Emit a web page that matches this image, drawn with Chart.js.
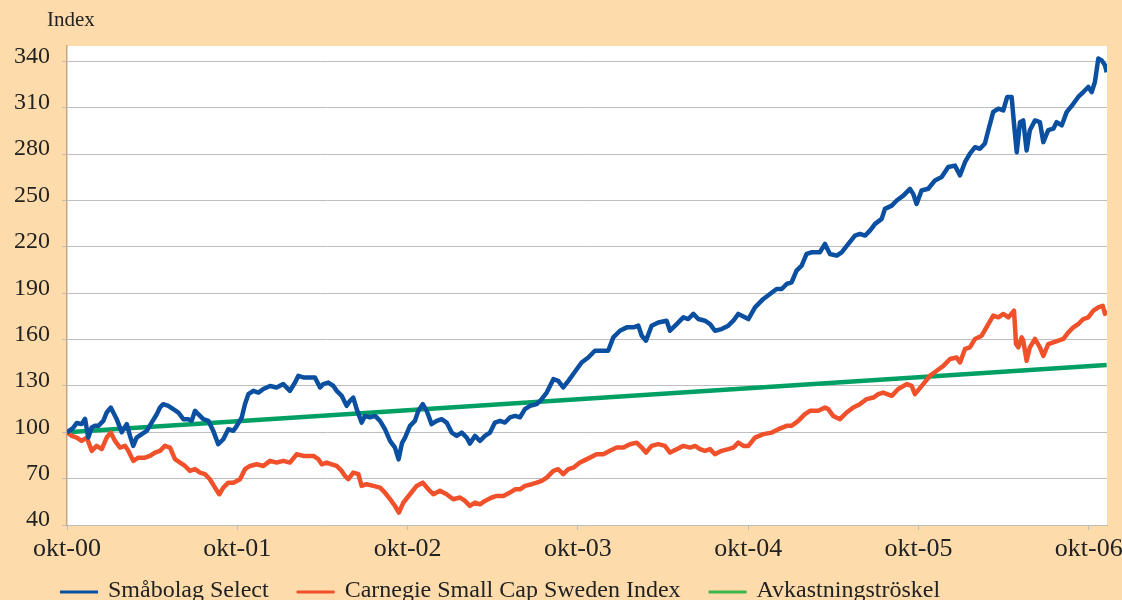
<!DOCTYPE html>
<html>
<head>
<meta charset="utf-8">
<script src="https://cdn.jsdelivr.net/npm/chart.js@4"></script>
<style>
  html, body { margin: 0; padding: 0; background: #FDDBAB; }
  #wrap { width: 1122px; height: 600px; }
</style>
</head>
<body>
<div id="wrap"><canvas id="indexChart" width="1122" height="600"></canvas></div>
<script>
// === Data (x = years since okt-00) ===
const xTickLabels = ["okt-00", "okt-01", "okt-02", "okt-03", "okt-04", "okt-05", "okt-06"];
const yTickValues = [40, 70, 100, 130, 160, 190, 220, 250, 280, 310, 340];

const smabolagYears = [0, 0.035, 0.057, 0.086, 0.106, 0.125, 0.145, 0.164, 0.184, 0.213, 0.233, 0.257, 0.272, 0.292, 0.321, 0.351, 0.370, 0.389, 0.409, 0.439,
  0.468, 0.497, 0.527, 0.546, 0.565, 0.595, 0.624, 0.654, 0.683, 0.712, 0.732, 0.752, 0.771, 0.800, 0.830, 0.859, 0.888, 0.918, 0.947, 0.977,
  0.996, 1.026, 1.045, 1.065, 1.094, 1.124, 1.153, 1.192, 1.231, 1.270, 1.309, 1.339, 1.358, 1.388, 1.427, 1.456, 1.486, 1.505, 1.534, 1.564,
  1.584, 1.613, 1.642, 1.662, 1.681, 1.701, 1.730, 1.750, 1.779, 1.809, 1.838, 1.867, 1.897, 1.926, 1.947, 1.967, 1.985, 2.014, 2.043, 2.063,
  2.089, 2.112, 2.141, 2.171, 2.200, 2.229, 2.259, 2.288, 2.318, 2.347, 2.366, 2.396, 2.425, 2.454, 2.484, 2.513, 2.543, 2.572, 2.601, 2.631,
  2.660, 2.689, 2.719, 2.758, 2.787, 2.817, 2.856, 2.885, 2.914, 2.944, 2.973, 3.022, 3.061, 3.100, 3.140, 3.178, 3.208, 3.247, 3.287, 3.326,
  3.355, 3.375, 3.400, 3.433, 3.472, 3.521, 3.541, 3.580, 3.619, 3.648, 3.678, 3.707, 3.746, 3.776, 3.805, 3.844, 3.883, 3.913, 3.942, 3.972,
  4.001, 4.040, 4.089, 4.128, 4.167, 4.197, 4.226, 4.255, 4.284, 4.314, 4.343, 4.372, 4.421, 4.451, 4.480, 4.520, 4.549, 4.588, 4.627, 4.656,
  4.686, 4.715, 4.745, 4.784, 4.803, 4.843, 4.872, 4.911, 4.950, 4.969, 4.989, 5.018, 5.057, 5.097, 5.136, 5.175, 5.214, 5.244, 5.273, 5.302,
  5.332, 5.361, 5.390, 5.410, 5.439, 5.469, 5.498, 5.521, 5.547, 5.561, 5.577, 5.596, 5.615, 5.635, 5.654, 5.684, 5.713, 5.733, 5.762, 5.792,
  5.811, 5.841, 5.870, 5.909, 5.938, 5.968, 5.997, 6.017, 6.036, 6.056, 6.076, 6.095, 6.105];
const smabolagIndex = [100, 102.7, 106, 105.3, 108.7, 96.6, 103.1, 104.2, 104.2, 107.4, 112.8, 116, 112.8, 108.5, 100, 105.3, 97.7, 91.2, 96.6, 98.8,
  100.9, 106.3, 111.7, 116, 118.2, 117.1, 115, 112.8, 108.5, 108.5, 107.4, 113.9, 111.7, 108.5, 107.4, 100.9, 92.3, 95.5, 102, 101,
  104, 109.6, 118.2, 124.7, 126.8, 125.7, 128, 130, 129, 131.2, 126.8, 132.2, 136.5, 135.5, 135.5, 135.5, 129, 131.2, 132.2, 130,
  126.8, 123.6, 117.1, 120.4, 122.5, 115, 106.3, 110.6, 109.6, 110.6, 107.4, 102, 94.4, 90.1, 82.5, 93, 96.6, 104.2, 107.4, 113.9,
  118.2, 113.9, 105.3, 107.4, 108.5, 106.3, 99.8, 97.7, 99.8, 96.6, 92.7, 97.7, 94.4, 97.7, 99.8, 106.3, 107.4, 106.3, 109.6, 110.6,
  109.6, 115, 117.1, 118.2, 121.4, 125.7, 134.4, 133.3, 129, 133.3, 137.7, 145.2, 148.4, 152.8, 152.8, 152.8, 161.4, 165.7, 167.9, 167.9,
  169, 162.5, 159.3, 169, 171.1, 172.2, 165.7, 170, 174.4, 173.3, 176.6, 173.3, 172.2, 170, 165.7, 166.8, 169, 172.2, 176.6, 175,
  173.3, 180.8, 186.3, 189.5, 192.7, 192.7, 196, 197.1, 204.6, 207.9, 215.4, 216.5, 216.5, 221.9, 215.4, 214.3, 216.5, 221.9, 227.3, 228.4,
  227.3, 230.5, 234.9, 238.1, 244.6, 246.7, 250, 253.2, 257.5, 254.3, 247.8, 256.5, 257.6, 263, 265.2, 271.7, 272.6, 266.3, 274.8, 280.4,
  284.5, 283.5, 286.9, 295.5, 307.4, 309.4, 308.3, 317, 317, 299.7, 281.3, 300.7, 301.8, 282.4, 295.5, 301.8, 300.7, 287.8, 295.5, 296.5,
  300.7, 298.6, 307.2, 312.6, 317, 320.2, 323.5, 320.2, 326.7, 341.9, 340.7, 337.5, 333];

const carnegieYears = [0, 0.028, 0.057, 0.086, 0.116, 0.145, 0.174, 0.204, 0.233, 0.257, 0.282, 0.311, 0.341, 0.360, 0.389, 0.419, 0.458, 0.487, 0.517, 0.546,
  0.575, 0.605, 0.634, 0.664, 0.693, 0.722, 0.752, 0.781, 0.810, 0.839, 0.869, 0.894, 0.918, 0.947, 0.977, 1.016, 1.045, 1.075, 1.114, 1.153,
  1.192, 1.231, 1.270, 1.309, 1.349, 1.388, 1.447, 1.476, 1.496, 1.525, 1.554, 1.584, 1.613, 1.632, 1.652, 1.681, 1.711, 1.730, 1.759, 1.799,
  1.838, 1.867, 1.897, 1.926, 1.949, 1.975, 2.014, 2.053, 2.089, 2.122, 2.151, 2.190, 2.229, 2.268, 2.308, 2.337, 2.366, 2.396, 2.425, 2.454,
  2.494, 2.523, 2.562, 2.601, 2.631, 2.660, 2.689, 2.729, 2.758, 2.787, 2.817, 2.856, 2.885, 2.914, 2.944, 2.973, 3.012, 3.032, 3.071, 3.110,
  3.149, 3.188, 3.228, 3.267, 3.306, 3.345, 3.375, 3.400, 3.433, 3.472, 3.511, 3.541, 3.580, 3.619, 3.659, 3.688, 3.717, 3.746, 3.776, 3.805,
  3.844, 3.883, 3.913, 3.942, 3.972, 4.001, 4.040, 4.089, 4.139, 4.178, 4.226, 4.255, 4.294, 4.333, 4.363, 4.412, 4.451, 4.470, 4.499, 4.539,
  4.578, 4.617, 4.656, 4.696, 4.735, 4.764, 4.793, 4.843, 4.881, 4.931, 4.960, 4.979, 5.028, 5.067, 5.107, 5.146, 5.185, 5.224, 5.244, 5.273,
  5.302, 5.332, 5.371, 5.410, 5.439, 5.469, 5.498, 5.528, 5.561, 5.573, 5.586, 5.606, 5.615, 5.635, 5.654, 5.684, 5.713, 5.733, 5.762, 5.792,
  5.821, 5.851, 5.880, 5.909, 5.938, 5.968, 5.997, 6.027, 6.056, 6.082, 6.095, 6.105];
const carnegieIndex = [100, 97.7, 96.6, 94.4, 96.6, 88, 91.2, 89.1, 96.6, 99.8, 94.4, 90.1, 91.2, 88, 81.5, 83.6, 83.6, 84.7, 86.9, 88,
  91.2, 90.1, 82.6, 80.4, 78.2, 75, 76.1, 73.9, 72.9, 69.6, 64.2, 59.9, 64.2, 67.4, 67.4, 69.6, 76.1, 78.2, 79.3, 78.2,
  81.5, 80.4, 81.5, 80.4, 85.8, 84.7, 84.7, 82.6, 79.3, 80.4, 79.3, 78.2, 75, 71.8, 69.6, 73.9, 72.9, 65.3, 66.4, 65.3,
  64.2, 61, 56.7, 52.3, 48, 54.5, 59.9, 65.3, 67.4, 63.1, 59.9, 62.1, 59.9, 56.7, 57.8, 55.6, 52.3, 54.5, 53.4, 55.6,
  57.8, 58.8, 58.8, 61, 63.1, 63.1, 65.3, 66.4, 67.4, 68.5, 70.7, 75, 76.1, 72.9, 76.1, 77.1, 80.4, 81.5, 83.6, 85.8,
  85.8, 88, 90.1, 90.1, 92.3, 93.3, 90.1, 86.9, 91.2, 92.3, 91.2, 86.9, 89.1, 91.2, 90.1, 91.2, 89.1, 88, 89.1, 85.8,
  88, 89.1, 90.1, 93.3, 91.2, 91.2, 96.6, 98.8, 99.8, 102, 104.2, 104.2, 107.4, 111.7, 113.9, 113.9, 116, 115, 110.6, 108.5,
  112.8, 116, 118.2, 121.5, 122.5, 124.7, 125.7, 123.6, 128, 131.2, 130, 124.7, 131.2, 136.6, 139.8, 143, 147.4, 148.4, 145.2, 153.9,
  154.9, 160.4, 162.5, 170, 175.5, 174.4, 176.6, 174.4, 178.7, 157.1, 155, 161.4, 159.3, 146.3, 155, 160.4, 155, 149.5, 157.1, 158.2,
  159.3, 160.4, 164.7, 167.9, 170, 173.3, 174.4, 178.7, 180.8, 181.9, 176.6, 179];

const troskelYears = [0, 1, 2, 3, 4, 5, 6.105];
const troskelIndex = [100, 107.1, 114.2, 121.4, 128.5, 135.6, 143.5];

const seriesLabels = ["Småbolag Select", "Carnegie Small Cap Sweden Index", "Avkastningströskel"];
const lineColors = ["#0B4FA0", "#F0502A", "#00A064"];
const legendColors = ["#0B4FA0", "#F0502A", "#3DB54A"];

const toPoints = (xs, ys) => xs.map((x, i) => ({ x, y: ys[i] }));

// === Plot background, "Index" caption and legend ===
const chartDecor = {
  id: "chartDecor",
  beforeDraw(chart) {
    const { ctx, chartArea: a } = chart;
    ctx.save();
    ctx.fillStyle = "#ffffff";
    ctx.fillRect(a.left, a.top, a.right - a.left, a.bottom - a.top);
    ctx.restore();
  },
  afterDraw(chart) {
    const { ctx } = chart;
    ctx.save();
    ctx.fillStyle = "#222";
    ctx.textBaseline = "alphabetic";
    ctx.font = "21px 'Liberation Serif'";
    ctx.fillText("Index", 47, 26);

    ctx.font = "24px 'Liberation Serif'";
    let x = 60;
    chart.data.datasets.forEach((ds, i) => {
      ctx.strokeStyle = legendColors[i];
      ctx.lineWidth = 3;
      ctx.beginPath();
      ctx.moveTo(x, 592);
      ctx.lineTo(x + 38, 592);
      ctx.stroke();
      ctx.fillStyle = "#222";
      ctx.fillText(ds.label, x + 48, 597);
      x += 48 + ctx.measureText(ds.label).width + 28;
    });
    ctx.restore();
  }
};

const serif = "'Liberation Serif', 'Times New Roman', serif";

new Chart(document.getElementById("indexChart"), {
  type: "line",
  data: {
    datasets: [
      { label: seriesLabels[0], data: toPoints(smabolagYears, smabolagIndex), borderColor: lineColors[0], borderWidth: 4.5 },
      { label: seriesLabels[1], data: toPoints(carnegieYears, carnegieIndex), borderColor: lineColors[1], borderWidth: 4.5 },
      { label: seriesLabels[2], data: toPoints(troskelYears, troskelIndex), borderColor: lineColors[2], borderWidth: 4.5 },
    ],
  },
  options: {
    responsive: false,
    animation: false,
    layout: { padding: { left: 0, right: 15, top: 46, bottom: 0 } },
    elements: { point: { radius: 0 }, line: { tension: 0, borderJoinStyle: "round" } },
    plugins: {
      legend: { display: false },
      tooltip: { enabled: false },
    },
    scales: {
      x: {
        type: "linear",
        min: 0,
        max: 6.107,
        afterBuildTicks: (axis) => { axis.ticks = xTickLabels.map((_, i) => ({ value: i })); },
        afterFit: (axis) => {
          axis.height = 75;
          axis.paddingLeft = 0;
          axis.paddingRight = 0;
        },
        ticks: {
          autoSkip: false,
          maxRotation: 0,
          padding: 4,
          color: "#222",
          font: { family: serif, size: 26 },
          callback: (value, index) => xTickLabels[index],
        },
        grid: { drawOnChartArea: false, tickLength: 5, color: "#BDBDBD" },
        border: { color: "#BDBDBD" },
      },
      y: {
        type: "linear",
        min: 40,
        max: 350,
        afterBuildTicks: (axis) => { axis.ticks = yTickValues.map((v) => ({ value: v })); },
        afterFit: (axis) => { axis.width = 67; },
        ticks: {
          padding: 12,
          labelOffset: -5,
          color: "#222",
          font: { family: serif, size: 24 },
        },
        grid: { color: "#BDBDBD", lineWidth: 1, tickLength: 5 },
        border: { color: "#C8A57A", width: 1.5 },
      },
    },
  },
  plugins: [chartDecor],
});
</script>
</body>
</html>
